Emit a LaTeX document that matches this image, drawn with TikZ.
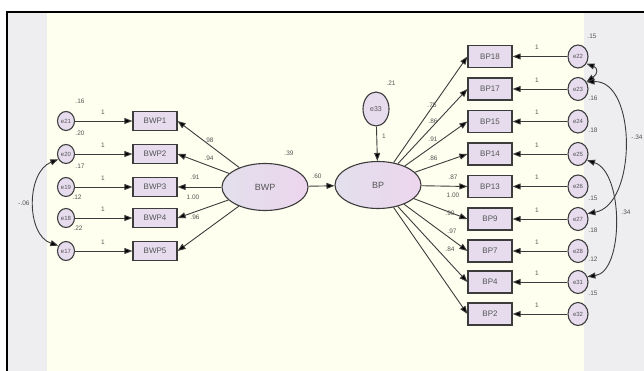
\documentclass[tikz,border=0pt]{standalone}
\usepackage{fontspec}
\setmainfont{Liberation Sans}
\usetikzlibrary{arrows.meta,shapes.geometric}
\definecolor{cream}{HTML}{FFFFF0}
\definecolor{strip}{HTML}{EEEEF0}
\definecolor{boxfill}{HTML}{E6DCEE}
\definecolor{ellL}{HTML}{E2E0EC}
\definecolor{ellR}{HTML}{EDD5EE}
\definecolor{edge}{HTML}{3C3C3C}
\definecolor{txt}{HTML}{555555}
\tikzset{
  obsL/.style={draw=edge, line width=1.2pt, fill=boxfill, minimum width=44pt, minimum height=19pt, inner sep=0pt, font=\fontsize{8}{9}\selectfont, text=txt},
  obsR/.style={obsL, minimum height=22pt},
  errL/.style={ellipse, draw=edge, line width=1.1pt, fill=boxfill, minimum width=17pt, minimum height=19pt, inner sep=0pt, font=\fontsize{6}{7}\selectfont, text=txt},
  errR/.style={errL, minimum width=20pt, minimum height=23pt},
  latent/.style={ellipse, draw=edge, line width=1.1pt, left color=ellL, right color=ellR, minimum width=86pt, minimum height=47pt, inner sep=0pt, font=\fontsize{9}{10}\selectfont, text=txt},
  path/.style={draw=edge, line width=0.9pt, -{Triangle[length=8pt,width=6pt,fill=black]}},
  cov/.style={draw=edge, line width=0.9pt, {Triangle[length=8pt,width=6pt,fill=black]}-{Triangle[length=8pt,width=6pt,fill=black]}},
  lab/.style={font=\fontsize{6.5}{7}\selectfont, text=txt, inner sep=0pt}
}
\begin{document}
\begin{tikzpicture}[x=1pt,y=-1pt]
\useasboundingbox (0,0) rectangle (644,371);
\fill[white] (0,0) rectangle (644,371);
\fill[strip] (7,12) rectangle (644,371);
\fill[cream] (47,12) rectangle (584,371);
\draw[black, line width=1.6pt] (7,371) -- (7,12) -- (644,12);

% left side
\foreach \n/\y/\e in {1/121/21, 2/154/20, 3/187/19, 4/218/18, 5/251/17}{
  \node[obsL] (BWP\n) at (155,\y) {BWP\n};
  \node[errL] (e\e) at (66,\y) {e\e};
  \draw[path] (e\e) -- (BWP\n);
  \node[lab] at (103,\y-9) {1};
}
\node[latent] (BWP) at (265,187) {BWP};
\foreach \n in {1,...,5}{ \draw[path] (BWP) -- (BWP\n.east); }
\node[lab] at (209,140) {.98};
\node[lab] at (209,158) {.94};
\node[lab] at (195,177) {.91};
\node[lab] at (193,197) {1.00};
\node[lab] at (195,217) {.96};
\node[lab] at (80,101) {.16};
\node[lab] at (80,133) {.20};
\node[lab] at (80,166) {.17};
\node[lab] at (77,197) {.12};
\node[lab] at (78,228) {.22};
\draw[cov] (e20.215) .. controls (26,172) and (26,235) .. (e17.145);
\node[lab] at (24,203) {-.06};
\node[lab] at (289,153) {.39};

% centre
\node[latent] (BP) at (378,185) {BP};
\draw[path] (BWP) -- (BP);
\node[lab] at (317,176) {.60};
\node[errL, minimum width=26pt, minimum height=34pt, font=\fontsize{7}{8}\selectfont] (e33) at (376,109) {e33};
\draw[path] (e33) -- (BP);
\node[lab] at (391,83) {.21};
\node[lab] at (384,136) {1};

% right side
\foreach \b/\y/\e in {18/56.5/22, 17/89/23, 15/121.5/24, 14/154/25, 13/186.5/26, 9/219/27, 7/251/28, 4/282/31, 2/314/32}{
  \node[obsR] (BP\b) at (490,\y) {BP\b};
  \node[errR] (e\e) at (578,\y) {e\e};
  \draw[path] (e\e) -- (BP\b);
  \node[lab] at (537,\y-9) {1};
  \draw[path] (BP) -- (BP\b.west);
}
\node[lab] at (432,105) {.75};
\node[lab] at (433,121) {.86};
\node[lab] at (433,139) {.91};
\node[lab] at (433,158) {.86};
\node[lab] at (453,177) {.87};
\node[lab] at (453,195) {1.00};
\node[lab] at (450,213) {.90};
\node[lab] at (452,231) {.97};
\node[lab] at (450,249) {.84};
\node[lab] at (592,36) {.15};
\node[lab] at (593,98) {.16};
\node[lab] at (593,130) {.18};
\node[lab] at (593,198) {.15};
\node[lab] at (593,230) {.18};
\node[lab] at (593,259) {.12};
\node[lab] at (593,293) {.15};
\draw[cov] (e22.-40) .. controls (598,68) and (598,74) .. (e23.40);
\draw[cov] (e23.40) .. controls (637,80) and (637,205) .. (e27.30);
\draw[cov] (e25.-35) .. controls (624,172) and (624,272) .. (e31.30);
\node[lab] at (637,137) {-.34};
\node[lab] at (626,212) {.34};
\end{tikzpicture}
\end{document}
